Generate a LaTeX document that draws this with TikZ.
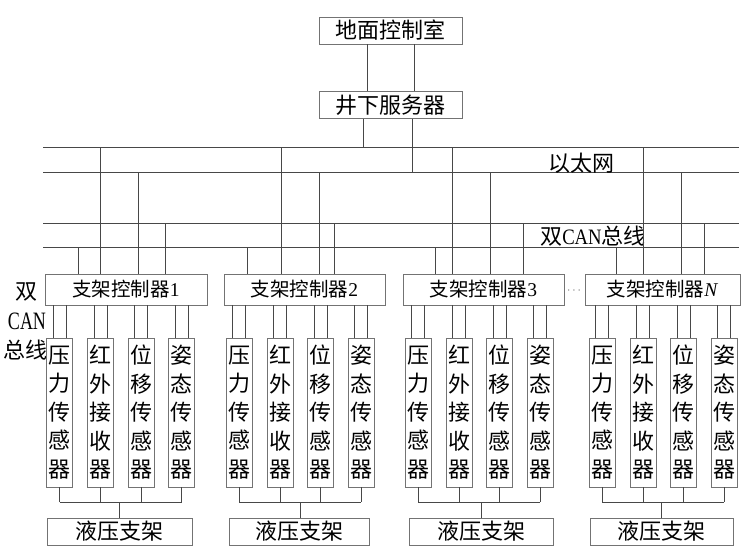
\documentclass[tikz,border=0pt]{standalone}
\usepackage{fontspec}
\usepackage{graphicx}
\setmainfont{Liberation Serif}
\newfontfamily\cjk{Noto Sans CJK SC}
\newcommand\canword{\scalebox{0.85}[1]{\fontsize{22}{26}\selectfont CAN}}
\newcommand\canleft{\scalebox{0.72}[1]{\fontsize{25}{28}\selectfont CAN}}
\begin{document}
\begin{tikzpicture}[x=1pt,y=-1pt,
  ln/.style={draw=black!72,line width=0.9pt},
  bx/.style={draw=black!55,line width=0.8pt,inner sep=0pt,fill=white},
  big/.style={font=\cjk\fontsize{22}{26}\selectfont,inner sep=0pt},
  ctl/.style={font=\fontsize{19.5}{22}\selectfont},
  sen/.style={bx,minimum width=26pt,minimum height=149pt,align=center,
              font=\cjk\fontsize{22}{28.5}\selectfont},
  lab/.style={inner sep=0pt}]
\useasboundingbox (0,0) rectangle (744,549);
% top
\node[bx,big,minimum width=143pt,minimum height=27pt] (gnd) at (390.5,30.5) {地面控制室};
\node[bx,big,minimum width=143pt,minimum height=27pt] (srv) at (390.5,105) {井下服务器};
\draw[ln] (gnd.south -| 367,0) -- (srv.north -| 367,0);
\draw[ln] (gnd.south -| 414,0) -- (srv.north -| 414,0);
% buses
\foreach \n/\y in {EA/147,EB/172,KA/223,KB/247}{
  \coordinate (\n L) at (43,\y);
  \coordinate (\n R) at (739,\y);
  \draw[ln] (\n L) -- (\n R);
}
\draw[ln] (srv.south -| 363,0) -- (EAL -| 363,0);
\draw[ln] (srv.south -| 412,0) -- (EBL -| 412,0);
\node[big] (eth) at (581,163) {以太网};
\node[lab] (can) at (593,236) {{\cjk\fontsize{22}{26}\selectfont 双}\canword{\cjk\fontsize{22}{26}\selectfont 总线}};
% left label
\node[big] (lsh) at (27,292) {双};
\node[lab] (lcan) at (27,321) {\canleft};
\node[big] (lzx) at (26,350) {总线};
\node[lab,font=\fontsize{13}{15}\selectfont,text=black!60] (dots) at (574,291) {$\cdots$};
% groups
\foreach \gi/\gs/\gl/\gr/\ghl/\ghr/\gd/\glb/\xa/\xb/\xc/\xd in {
  1/59.5/45/207/47/192/119.5/1/78/100/138/165,
  2/239/224/385/229/369/300/2/247/281/319/334,
  3/418/403/564/409/553/481/3/435/452/490/523,
  4/602/585/740/590/733/661/{\textit{N}}/616/643/681/704}{
  \pgfmathsetmacro\gcx{(\gl+\gr)/2}
  \pgfmathsetmacro\gcw{\gr-\gl}
  \pgfmathsetmacro\ghx{(\ghl+\ghr)/2}
  \pgfmathsetmacro\ghw{\ghr-\ghl}
  \node[bx,ctl,minimum width=\gcw pt,minimum height=31pt] (c\gi) at (\gcx,289.5) {{\cjk 支架控制器}\glb};
  \draw[ln] (c\gi.north -| \xa,0) -- (KBL -| \xa,0);
  \draw[ln] (c\gi.north -| \xb,0) -- (EAL -| \xb,0);
  \draw[ln] (c\gi.north -| \xc,0) -- (EBL -| \xc,0);
  \draw[ln] (c\gi.north -| \xd,0) -- (KAL -| \xd,0);
  \node[bx,big,minimum width=\ghw pt,minimum height=27pt] (h\gi) at (\ghx,531.5) {液压支架};
  \coordinate (m\gi) at (\gd,502);
  \draw[ln] (m\gi) -- (h\gi.north -| m\gi);
  \foreach \sj/\so/\stxt in {1/0/{压\\力\\传\\感\\器},2/41/{红\\外\\接\\收\\器},
                        3/81.5/{位\\移\\传\\感\\器},4/122/{姿\\态\\传\\感\\器}}{
    \pgfmathsetmacro\ssx{\gs+\so}
    \node[sen] (s\gi\sj) at (\ssx,412.5) {\stxt};
    \draw[ln] (c\gi.south -| \ssx-6.5,0) -- (s\gi\sj.north -| \ssx-6.5,0);
    \draw[ln] (c\gi.south -| \ssx+6.5,0) -- (s\gi\sj.north -| \ssx+6.5,0);
    \draw[ln] (s\gi\sj.south) -- (s\gi\sj.south |- m\gi);
  }
  \draw[ln] (s\gi1.south |- m\gi) -- (s\gi4.south |- m\gi);
}
\end{tikzpicture}
\end{document}
